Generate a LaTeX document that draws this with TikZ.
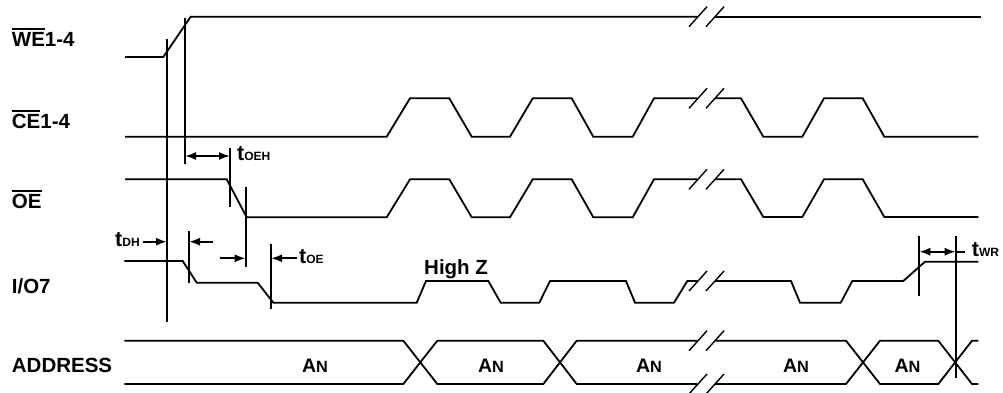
\documentclass[tikz,border=0pt]{standalone}
\usepackage{fontspec}
\setmainfont{Liberation Sans}
\usetikzlibrary{arrows.meta}
\newcommand\ovl[1]{\leavevmode\vbox{\hrule height 1.8pt\kern 2.4pt\hbox{#1}}}
\newcommand\tsub[2]{{\fontsize{21.5}{24}\selectfont\bfseries #1}{\fontsize{12}{14}\selectfont\bfseries #2}}
\newcommand\asub[2]{{\fontsize{19.5}{22}\selectfont\bfseries #1}{\fontsize{16.3}{18}\selectfont\bfseries #2}}
\newcommand\brkmark[1]{\draw[brk] (689,#1+10)--(707,#1-10) (706,#1+10)--(724,#1-10);}
\tikzset{
  wave/.style={line width=1.8pt},
  vline/.style={line width=1.8pt},
  brk/.style={line width=1.4pt},
  dimarrow/.style={line width=1.8pt,{Latex[length=11pt,width=8pt]}-{Latex[length=11pt,width=8pt]}},
  onearrow/.style={line width=1.8pt,-{Latex[length=11pt,width=8pt]}},
  siglabel/.style={font=\fontsize{20.5}{24}\selectfont\bfseries,anchor=base west,inner sep=0pt},
  tlabel/.style={anchor=base west,inner sep=0pt},
  anlabel/.style={anchor=base,inner sep=0pt}
}
\begin{document}
\begin{tikzpicture}[x=1pt,y=-1pt]
\useasboundingbox (0,0) rectangle (1003,393);
% labels
\node[siglabel] (lwe) at (11.7,46.7) {\ovl{WE}1-4};
\node[siglabel] (lce) at (11.7,128.3) {\ovl{CE}1-4};
\node[siglabel] (loe) at (11.7,208.3) {\ovl{OE}};
\node[siglabel] (lio) at (11.7,293.3) {I/O7};
\node[siglabel] (lad) at (11.7,372.7) {ADDRESS};
% WE
\draw[wave] (125,57)--(163.3,57)--(190.7,16.7)--(697,16.7);
\draw[wave] (715,16.7)--(980.7,16.7);
\brkmark{16.7}
% CE
\draw[wave] (125,136.7)--(386.7,136.7)--(410,98.3)--(449.3,98.3)--(471.7,136.7)--(510,136.7)--(532.7,98.3)--(571.7,98.3)--(593.3,136.7)--(632.7,136.7)--(654,98.3)--(697,98.3);
\draw[wave] (715,98.3)--(741,98.3)--(763.3,136.7)--(802.3,136.7)--(824,98.3)--(862.7,98.3)--(884.3,136.7)--(978.3,136.7);
\brkmark{98.3}
% OE
\draw[wave] (125,179.3)--(226.7,179.3)--(246.7,217.3)--(386.7,217.3)--(410,179.3)--(449.3,179.3)--(471.7,217.3)--(510,217.3)--(532.7,179.3)--(571.7,179.3)--(593.3,217.3)--(632.7,217.3)--(654,179.3)--(697,179.3);
\draw[wave] (715,179.3)--(741,179.3)--(763.3,217)--(802.3,217)--(824,179.3)--(862.7,179.3)--(884.3,217)--(978.3,217);
\brkmark{179.3}
% I/O7
\draw[wave] (124.3,261)--(182.7,261)--(196.7,282.7)--(257.7,282.7)--(273.3,302.7)--(416.7,302.7)--(426,281)--(488.3,281)--(500.7,302.7)--(539.3,302.7)--(550,281)--(626,281)--(635,302.7)--(674,302.7)--(687.3,281)--(697,281);
\draw[wave] (715,281)--(791,281)--(800,302.7)--(840.7,302.7)--(852.3,281)--(903.3,281)--(925,261.7)--(978.3,261.7);
\brkmark{281}
\node[anchor=base west,inner sep=0pt,font=\fontsize{20.5}{24}\selectfont\bfseries] (hz) at (424,274) {High Z};
% ADDRESS
\draw[wave] (124.3,340.7)--(403.3,340.7)--(437.3,384)--(543.3,384)--(576.7,340.7)--(697,340.7);
\draw[wave] (124.3,384)--(403.3,384)--(437.3,340.7)--(543.3,340.7)--(576.7,384)--(697,384);
\draw[wave] (715,340.7)--(846,340.7)--(880,384)--(938.3,384)--(972,340.7)--(978.3,340.7);
\draw[wave] (715,384)--(846,384)--(880,340.7)--(938.3,340.7)--(972,384)--(978.3,384);
\brkmark{340.7}
\brkmark{384}
\node[anlabel] (an1) at (315,372.3) {\asub{A}{N}};
\node[anlabel] (an2) at (491,372.3) {\asub{A}{N}};
\node[anlabel] (an3) at (649,372.3) {\asub{A}{N}};
\node[anlabel] (an4) at (796,372.3) {\asub{A}{N}};
\node[anlabel] (an5) at (907.5,372.3) {\asub{A}{N}};
% timing verticals
\draw[vline] (167,39.3)--(167,321.7);
\draw[vline] (185,18)--(185,164.3);
\draw[vline] (230,148.3)--(230,206.7);
\draw[vline] (245.7,186.7)--(245.7,266.7);
\draw[vline] (189,231)--(189,282.7);
\draw[vline] (271,244.3)--(271,309.3);
\draw[vline] (919.3,236)--(919.3,296);
\draw[vline] (955.7,236)--(955.7,378.3);
% dimension arrows
\draw[dimarrow] (185,156)--(230,156);
\node[tlabel] (toeh) at (237,160) {\tsub{t}{OEH}};
\draw[onearrow] (143.3,241.7)--(167,241.7);
\draw[onearrow] (213.3,241.7)--(189,241.7);
\node[tlabel] (tdh) at (115,246.7) {\tsub{t}{DH}};
\draw[onearrow] (220,258.3)--(245.7,258.3);
\draw[onearrow] (296.7,258.3)--(271,258.3);
\node[tlabel] (toe) at (299,263.3) {\tsub{t}{OE}};
\draw[dimarrow] (919.3,251.7)--(955.7,251.7);
\draw[vline] (955.7,251.7)--(965,251.7);
\node[tlabel] (twr) at (971.7,256.7) {\tsub{t}{WR}};
\end{tikzpicture}
\end{document}
